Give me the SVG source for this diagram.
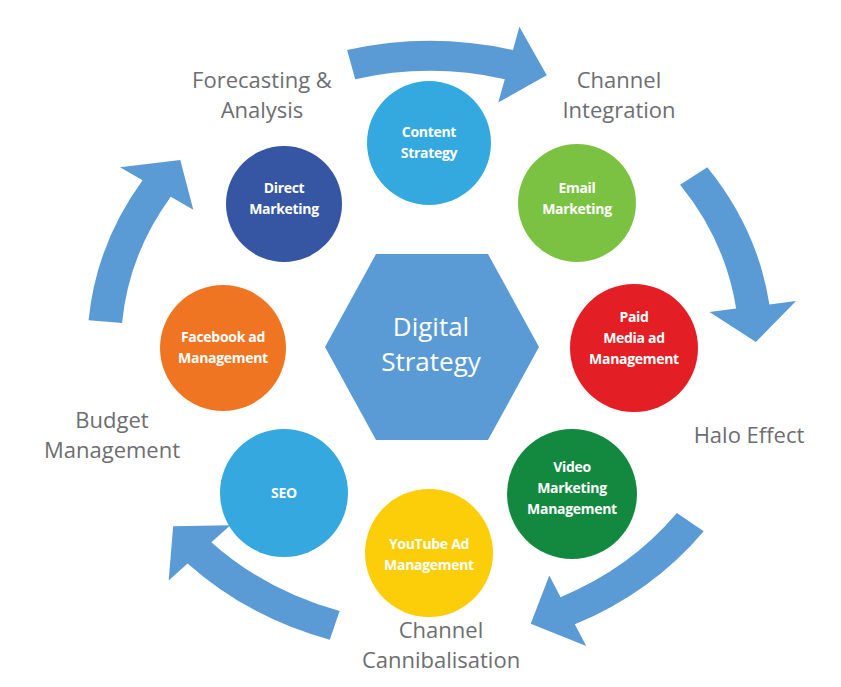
<svg xmlns="http://www.w3.org/2000/svg" width="841" height="687" viewBox="0 0 841 687">
<style>
.lbl{font-family:"Open Sans","Liberation Sans",sans-serif;font-size:22px;fill:#6d6e71;text-anchor:middle}
.nt{font-family:"Open Sans","Liberation Sans",sans-serif;font-size:14px;font-weight:bold;fill:#fff;text-anchor:middle;letter-spacing:-0.3px}
.hub{font-family:"Open Sans","Liberation Sans",sans-serif;font-size:26px;fill:#fff;text-anchor:middle}
.arr{fill:#5b9bd5}
</style>
<defs>
<path id="arrow" d="M306,0 A306,306 0 0 1 270.2,143.7 L291.4,154.9 L238.4,166.9 L222.5,118.3 L243.7,129.6 A276,276 0 0 0 276,0 Z"/>
</defs>
<rect width="841" height="687" fill="#fff"/>
<g id="connectors" class="arr" transform="translate(430,347) scale(1.12,1)">
<use href="#arrow" transform="rotate(-104)"/>
<use href="#arrow" transform="rotate(-36)"/>
<use href="#arrow" transform="rotate(37)"/>
<use href="#arrow" transform="rotate(107)"/>
<use href="#arrow" transform="rotate(185)"/>
</g>
<g id="labels">
<text class="lbl" x="262" y="88">Forecasting &amp;</text>
<text class="lbl" x="262" y="118">Analysis</text>
<text class="lbl" x="619" y="88">Channel</text>
<text class="lbl" x="619" y="118">Integration</text>
<text class="lbl" x="749" y="443">Halo Effect</text>
<text class="lbl" x="112" y="428">Budget</text>
<text class="lbl" x="112" y="458">Management</text>
<text class="lbl" x="441" y="638">Channel</text>
<text class="lbl" x="441" y="668">Cannibalisation</text>
</g>
<g id="hub"><polygon points="376,254 488,254 539,347 488,440 376,440 325,347" fill="#5b9bd5"/>
<text class="hub" x="431" y="336">Digital</text>
<text class="hub" x="431" y="371">Strategy</text></g>
<g id="content"><circle cx="429" cy="143" r="62" fill="#34a9e0"/><text class="nt" x="429" y="137">Content</text><text class="nt" x="429" y="158">Strategy</text></g>
<g id="direct"><circle cx="284" cy="204" r="58" fill="#3656a3"/><text class="nt" x="284" y="193">Direct</text><text class="nt" x="284" y="214">Marketing</text></g>
<g id="email"><circle cx="577" cy="203" r="59" fill="#7cc242"/><text class="nt" x="577" y="193">Email</text><text class="nt" x="577" y="214">Marketing</text></g>
<g id="facebook"><circle cx="223" cy="348" r="63" fill="#f07522"/><text class="nt" x="223" y="342">Facebook ad</text><text class="nt" x="223" y="363">Management</text></g>
<g id="paid"><circle cx="634" cy="348" r="64" fill="#e31e25"/><text class="nt" x="634" y="322">Paid</text><text class="nt" x="634" y="343">Media ad</text><text class="nt" x="634" y="364">Management</text></g>
<g id="seo"><circle cx="284" cy="493" r="64" fill="#35a8df"/><text class="nt" x="284" y="498">SEO</text></g>
<g id="video"><circle cx="572" cy="494" r="65" fill="#12893f"/><text class="nt" x="572" y="472">Video</text><text class="nt" x="572" y="493">Marketing</text><text class="nt" x="572" y="514">Management</text></g>
<g id="youtube"><circle cx="429" cy="553" r="64" fill="#fcce0a"/><text class="nt" x="429" y="549">YouTube Ad</text><text class="nt" x="429" y="570">Management</text></g>
</svg>
